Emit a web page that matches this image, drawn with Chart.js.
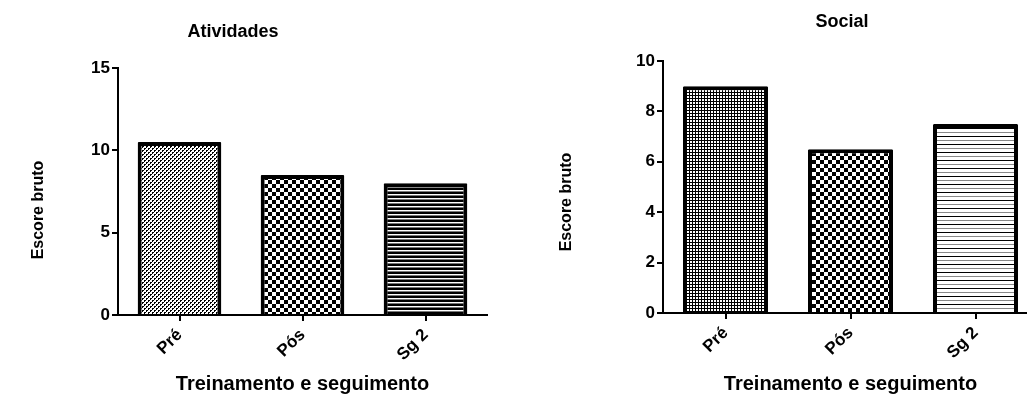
<!DOCTYPE html>
<html>
<head>
<meta charset="utf-8">
<script src="https://cdn.jsdelivr.net/npm/chart.js@4.4.1/dist/chart.umd.min.js"></script>
<style>
html,body{margin:0;padding:0;background:#fff;overflow:hidden;width:1027px;height:394px;}
.panel{position:absolute;top:0;}
</style>
</head>
<body>
<div class="panel" style="left:0px"><canvas id="c1" width="510" height="394"></canvas></div>
<div class="panel" style="left:540px"><canvas id="c2" width="520" height="394"></canvas></div>
<script>
// ---- data ----
const categories = ['Pré', 'Pós', 'Sg 2'];
const atividadesValues = [10.5, 8.5, 8.0];
const socialValues = [9.0, 6.5, 7.5];
const atividadesTicks = [0, 5, 10, 15];
const socialTicks = [0, 2, 4, 6, 8, 10];
const atividadesTitle = 'Atividades';
const socialTitle = 'Social';
const yTitle = 'Escore bruto';
const xTitle = 'Treinamento e seguimento';

const FONT = '"Liberation Sans", Arial, Helvetica, sans-serif';

function makePattern(w, h, bg, fg, draw) {
  const c = document.createElement('canvas');
  c.width = w; c.height = h;
  const x = c.getContext('2d');
  x.fillStyle = bg; x.fillRect(0, 0, w, h);
  x.fillStyle = fg;
  draw(x);
  return x.createPattern(c, 'repeat');
}
const pDotsLight = makePattern(4, 4, '#fff', '#000', x => {
  x.fillRect(0,0,2,2); x.fillRect(2,2,2,2);
  x.fillStyle = '#fff'; x.fillRect(1,1,1,1); x.fillRect(3,3,1,1);
});
const pDotsDark = makePattern(3, 3, '#000', '#fff', x => { x.fillRect(0,0,2,2); });
const pChecker = makePattern(8, 8, '#fff', '#000', x => { x.fillRect(0,0,4,4); x.fillRect(4,4,4,4); });
const pLinesDense = makePattern(4, 4, '#fff', '#000', x => { x.fillRect(0,0,4,2); x.fillStyle='#777'; x.fillRect(0,3,4,1); });
const pLinesThin = makePattern(8, 8, '#fff', '#000', x => { x.fillRect(0,0,8,1); x.fillStyle='#888'; x.fillRect(0,4,8,1); });

// chart title and y-axis title drawn as text at given canvas positions
const panelText = {
  id: 'panelText',
  afterDraw(chart, args, opts) {
    const ctx = chart.ctx;
    ctx.save();
    ctx.fillStyle = '#000';
    ctx.textAlign = 'center';
    ctx.textBaseline = 'middle';
    ctx.font = 'bold ' + opts.title.size + 'px ' + FONT;
    ctx.fillText(opts.title.text, opts.title.x, opts.title.y);
    ctx.translate(opts.ytitle.x, opts.ytitle.y);
    ctx.rotate(-Math.PI / 2);
    ctx.font = 'bold ' + opts.ytitle.size + 'px ' + FONT;
    ctx.fillText(opts.ytitle.text, 0, 0);
    ctx.restore();
  }
};

function build(id, values, ticks, patterns, cfg) {
  const yMax = ticks[ticks.length - 1];
  const step = ticks[1] - ticks[0];
  return new Chart(document.getElementById(id), {
    type: 'bar',
    data: {
      labels: categories,
      datasets: [{
        data: values,
        backgroundColor: patterns,
        borderColor: '#000',
        borderWidth: 4,
        borderSkipped: 'bottom',
        borderRadius: 1,
        barPercentage: 0.68,
        categoryPercentage: 1.0
      }]
    },
    plugins: [panelText],
    options: {
      responsive: false,
      animation: false,
      devicePixelRatio: 1,
      layout: { padding: cfg.padding },
      plugins: {
        legend: { display: false },
        tooltip: { enabled: false },
        title: { display: false },
        panelText: cfg.text
      },
      scales: {
        x: {
          type: 'category',
          offset: true,
          grid: { display: true, drawOnChartArea: false, drawTicks: true, tickLength: 6, color: '#000', lineWidth: 2, offset: false },
          border: { display: true, color: '#000', width: 2 },
          ticks: { color: '#000', font: { family: FONT, size: 17, weight: 'bold' }, minRotation: 45, maxRotation: 45, padding: 4 },
          title: { display: true, text: xTitle, color: '#000', font: { family: FONT, size: 20, weight: 'bold', lineHeight: 1 }, padding: { top: 0, bottom: 0 } },
          afterFit(s) { s.height = cfg.xHeight; }
        },
        y: {
          min: 0, max: yMax,
          grid: { display: true, drawOnChartArea: false, drawTicks: true, tickLength: 6, color: '#000', lineWidth: 2 },
          border: { display: true, color: '#000', width: 2 },
          ticks: { color: '#000', stepSize: step, font: { family: FONT, size: 17, weight: 'bold' }, padding: 2 },
          title: { display: false },
          afterFit(s) { s.width = cfg.yWidth; }
        }
      }
    }
  });
}

build('c1', atividadesValues, atividadesTicks, [pDotsLight, pChecker, pLinesDense], {
  padding: { left: 30, right: 23, top: 68, bottom: 0 },
  yWidth: 88, xHeight: 79,
  text: {
    title: { text: atividadesTitle, x: 233, y: 32, size: 18 },
    ytitle: { text: yTitle, x: 39, y: 210, size: 16 }
  }
});
build('c2', socialValues, socialTicks, [pDotsDark, pChecker, pLinesThin], {
  padding: { left: 19, right: 22, top: 61, bottom: 0 },
  yWidth: 104, xHeight: 81,
  text: {
    title: { text: socialTitle, x: 302, y: 22, size: 18 },
    ytitle: { text: yTitle, x: 27, y: 202, size: 16 }
  }
});
</script>
</body>
</html>
